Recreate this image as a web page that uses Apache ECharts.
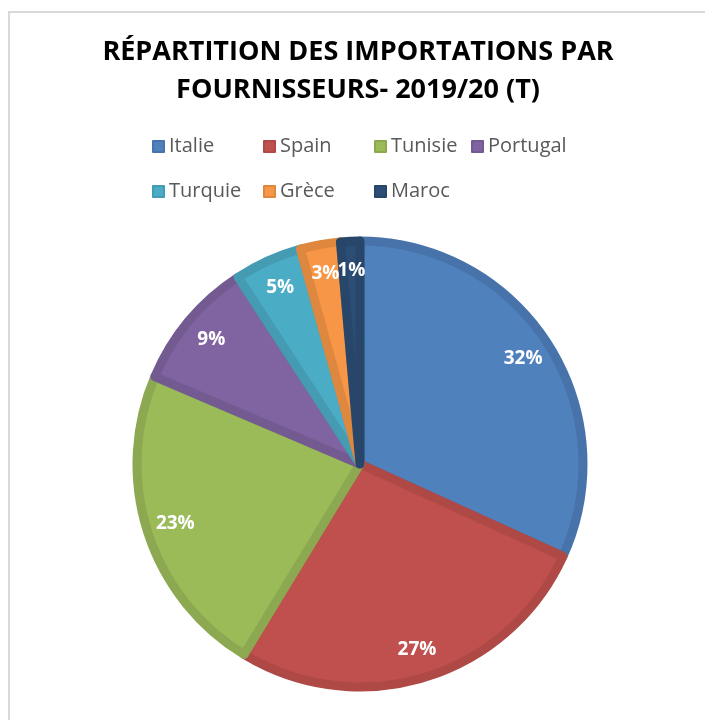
<!DOCTYPE html>
<html>
<head>
<meta charset="utf-8">
<script src="https://cdn.jsdelivr.net/npm/echarts@6/dist/echarts.min.js"></script>
<style>
  html, body { margin: 0; padding: 0; background: #fff; }
  #chart { width: 705px; height: 720px; }
</style>
</head>
<body>
<div id="chart"></div>
<script>
// values (share of total, %)
const suppliers = ['Italie', 'Spain', 'Tunisie', 'Portugal', 'Turquie', 'Grèce', 'Maroc'];
const shares = [31.8, 26.9, 22.7, 9.4, 4.9, 2.9, 1.4];
const fillColors = ['#4F81BD', '#C0504D', '#9BBB59', '#8064A2', '#4BACC6', '#F79646', '#2C4D75'];
const edgeColors = ['#4773AA', '#AE4946', '#8CA951', '#735B92', '#449BB2', '#DE873F', '#284669'];

const chart = echarts.init(document.getElementById('chart'));

const pieData = suppliers.map((name, i) => ({
  name: name,
  value: shares[i],
  itemStyle: { color: fillColors[i], borderColor: edgeColors[i] }
}));

chart.setOption({
  animation: false,
  graphic: [{
    type: 'rect',
    shape: { x: 9, y: 12, width: 720, height: 730 },
    style: { fill: 'none', stroke: '#d9d9d9', lineWidth: 2 },
    silent: true
  }],
  title: {
    text: 'RÉPARTITION DES IMPORTATIONS PAR\nFOURNISSEURS- 2019/20 (T)',
    left: 358,
    textAlign: 'center',
    top: 33,
    padding: 0,
    textStyle: {
      fontFamily: 'Open Sans',
      fontWeight: 'bold',
      fontSize: 27,
      lineHeight: 38,
      color: '#000'
    }
  },
  legend: {
    data: suppliers,
    left: 152,
    top: 129,
    width: 440,
    itemWidth: 11,
    itemHeight: 11,
    itemGap: 10,
    icon: 'rect',
    formatter: name => name === 'Tunisie' ? '{b|' + name + '}' : '{a|' + name + '}',
    textStyle: {
      fontFamily: 'Open Sans',
      fontSize: 20,
      color: '#595959',
      lineHeight: 35,
      rich: {
        a: { width: 84, fontFamily: 'Open Sans', fontSize: 20, color: '#595959', lineHeight: 35 },
        b: { width: 70, fontFamily: 'Open Sans', fontSize: 20, color: '#595959', lineHeight: 35 }
      }
    },
    padding: 0,
    selectedMode: false
  },
  series: [{
    type: 'pie',
    center: [360, 464],
    radius: [0, 223],
    startAngle: 90,
    clockwise: true,
    silent: true,
    itemStyle: { borderWidth: 9 },
    label: { show: false },
    labelLine: { show: false },
    data: pieData
  }, {
    // transparent ring used only to place the labels near the rim
    type: 'pie',
    center: [360, 464],
    radius: [160, 222],
    startAngle: 90,
    clockwise: true,
    silent: true,
    percentPrecision: 0,
    itemStyle: { color: 'transparent', borderWidth: 0 },
    label: {
      show: true,
      position: 'inside',
      rotate: 0,
      formatter: '{d}%',
      fontFamily: 'Open Sans',
      fontWeight: 'bold',
      fontSize: 19,
      color: '#fff'
    },
    labelLayout: { hideOverlap: false },
    labelLine: { show: false },
    data: suppliers.map((name, i) => ({ name: name, value: shares[i] }))
  }]
});
</script>
</body>
</html>
